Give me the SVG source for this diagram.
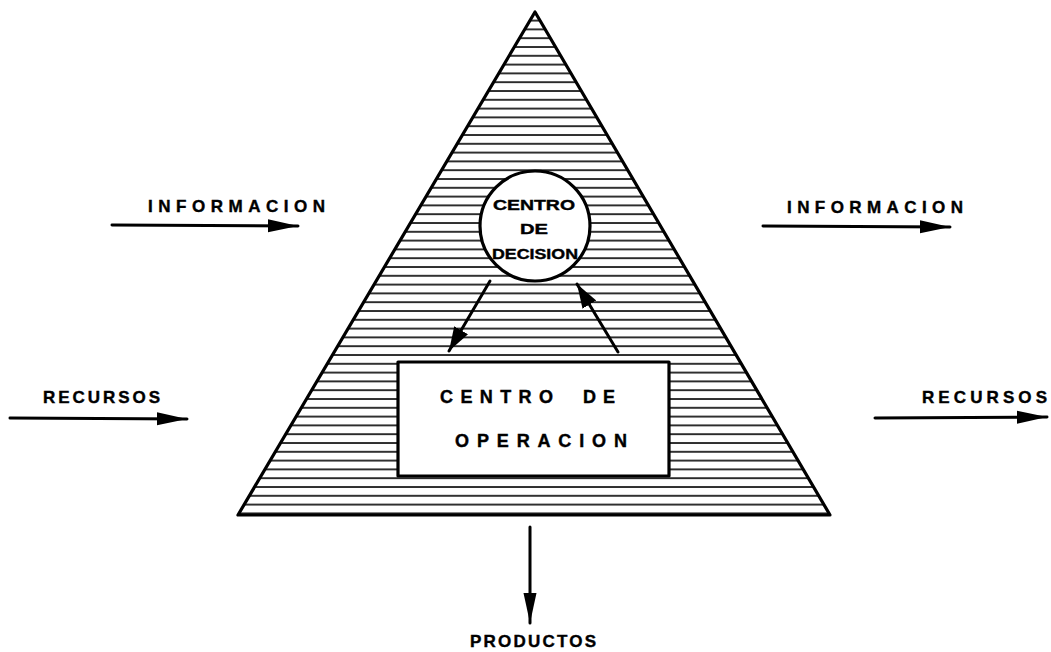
<svg xmlns="http://www.w3.org/2000/svg" width="1051" height="652" viewBox="0 0 1051 652">
<style>
.lbl{font-family:"Liberation Sans",Arial,sans-serif;font-weight:bold;fill:#000;stroke:#000;stroke-width:0.4}
.ln{stroke:#000;stroke-width:3;fill:none;stroke-linecap:round}
.shape{stroke:#000;stroke-width:3.2;stroke-linejoin:round}
</style>
<defs>
<pattern id="hatch" patternUnits="userSpaceOnUse" x="0" y="2" width="20" height="8.8">
<line x1="0" y1="1" x2="20" y2="1" stroke="#000" stroke-width="1.6"/>
</pattern>
<marker id="ah" markerUnits="userSpaceOnUse" markerWidth="32" markerHeight="16" refX="30" refY="8" orient="auto">
<path d="M0,1.5 L30,8 L0,14.5 z" fill="#000"/>
</marker>
<marker id="ahs" markerUnits="userSpaceOnUse" markerWidth="26" markerHeight="18" refX="24" refY="9" orient="auto">
<path d="M0,1 L24,9 L0,17 z" fill="#000"/>
</marker>
</defs>
<rect width="1051" height="652" fill="#fff"/>
<g id="pyramid">
<polygon class="shape" points="535,12 238,515 830,515" fill="url(#hatch)"/>
</g>
<g id="centro-decision">
<circle class="shape" cx="535" cy="226" r="55" fill="#fff"/>
<text class="lbl" font-size="15" x="493" y="210" textLength="82" lengthAdjust="spacingAndGlyphs">CENTRO</text>
<text class="lbl" font-size="15" x="520" y="234" textLength="28" lengthAdjust="spacingAndGlyphs">DE</text>
<text class="lbl" font-size="15" x="492" y="259" textLength="86" lengthAdjust="spacingAndGlyphs">DECISION</text>
</g>
<g id="centro-operacion">
<rect class="shape" x="398" y="362" width="271" height="114" fill="#fff"/>
<text class="lbl" font-size="18" x="440" y="403"><tspan textLength="113" lengthAdjust="spacing">CENTRO</tspan><tspan x="583" textLength="32" lengthAdjust="spacing">DE</tspan></text>
<text class="lbl" font-size="18" x="455" y="447" textLength="172" lengthAdjust="spacing">OPERACION</text>
</g>
<g id="connectors">
<line class="ln" x1="112" y1="225" x2="298" y2="226" marker-end="url(#ah)"/>
<line class="ln" x1="10" y1="418" x2="187" y2="419" marker-end="url(#ah)"/>
<line class="ln" x1="763" y1="226" x2="950" y2="227" marker-end="url(#ah)"/>
<line class="ln" x1="875" y1="418" x2="1047" y2="417" marker-end="url(#ah)"/>
<line class="ln" x1="530" y1="527" x2="530" y2="623" marker-end="url(#ah)"/>
<line class="ln" x1="490" y1="281" x2="449" y2="351" marker-end="url(#ahs)"/>
<line class="ln" x1="618" y1="352" x2="577" y2="284" marker-end="url(#ahs)"/>
</g>
<g id="labels">
<text class="lbl" font-size="17" x="148" y="212" textLength="177" lengthAdjust="spacing">INFORMACION</text>
<text class="lbl" font-size="17" x="787" y="213" textLength="176" lengthAdjust="spacing">INFORMACION</text>
<text class="lbl" font-size="17" x="43" y="403" textLength="117" lengthAdjust="spacing">RECURSOS</text>
<text class="lbl" font-size="17" x="922" y="403" textLength="125" lengthAdjust="spacing">RECURSOS</text>
<text class="lbl" font-size="17" x="470" y="647" textLength="126" lengthAdjust="spacing">PRODUCTOS</text>
</g>
</svg>
